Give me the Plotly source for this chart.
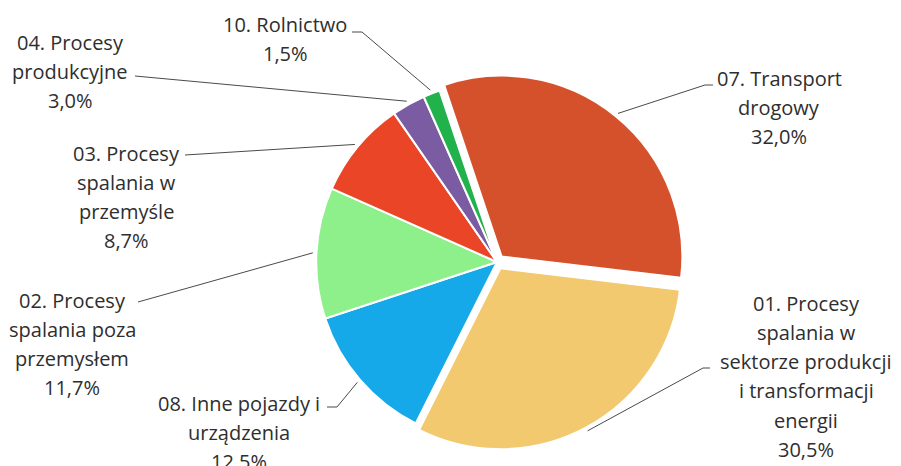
import math
import plotly.graph_objects as go

# ---- data (clockwise from top) ----
categories = [
    "07. Transport drogowy",
    "01. Procesy spalania w sektorze produkcji i transformacji energii",
    "08. Inne pojazdy i urządzenia",
    "02. Procesy spalania poza przemysłem",
    "03. Procesy spalania w przemyśle",
    "04. Procesy produkcyjne",
    "10. Rolnictwo",
]
values = [32.0, 30.5, 12.5, 11.7, 8.7, 3.0, 1.5]
pct_labels = ["32,0%", "30,5%", "12,5%", "11,7%", "8,7%", "3,0%", "1,5%"]
label_lines = [
    ["07. Transport", "drogowy"],
    ["01. Procesy", "spalania w", "sektorze produkcji", "i transformacji", "energii"],
    ["08. Inne pojazdy i", "urządzenia"],
    ["02. Procesy", "spalania poza", "przemysłem"],
    ["03. Procesy", "spalania w", "przemyśle"],
    ["04. Procesy", "produkcyjne"],
    ["10. Rolnictwo"],
]
colors = ["#D4512B", "#F2C96E", "#16A9E9", "#8DF08A", "#EA4526", "#7B5BA1", "#22B24C"]
pulls = [0.04, 0.04, 0, 0, 0, 0, 0]

# ---- layout (pixels) ----
W, H = 901, 466
CX, CY, RDOM = 497, 262, 188
ROT = -18.5
# label text centre x, first-line y, leader start (text side) points
label_pos = [
    (779, 78), (806, 303), (239, 403), (72, 300), (126, 153), (70, 42), (285, 24),
]
leader_text = [
    [(713, 85), (705, 85)],
    [(710, 368), (703, 368)],
    [(327, 407), (337, 407)],
    [(138, 302)],
    [(185, 155)],
    [(135, 76)],
    [(352, 32), (362, 32)],
]
LINE_SP = 29.3


def px(x):
    return x / W


def py(y):
    return 1 - y / H


fig = go.Figure(go.Pie(
    labels=categories, values=values, sort=False, direction="clockwise",
    rotation=ROT, pull=pulls, textinfo="none", hoverinfo="label+percent",
    marker=dict(colors=colors, line=dict(color="white", width=2)),
    domain=dict(x=[px(CX - RDOM), px(CX + RDOM)], y=[py(CY + RDOM), py(CY - RDOM)]),
    showlegend=False,
))

maxpull = max(pulls)
r = RDOM / (1 + maxpull)
total = sum(values)
ann = []
shapes = []
cum = 0.0
for i, v in enumerate(values):
    mid = ROT + (cum + v / 2) / total * 360
    cum += v
    a = math.radians(mid)
    ox = CX + pulls[i] * r * math.sin(a)
    oy = CY - pulls[i] * r * math.cos(a)
    ex = ox + r * 1.02 * math.sin(a)
    ey = oy - r * 1.02 * math.cos(a)
    pts = leader_text[i] + [(ex, ey)]
    for (x0, y0), (x1, y1) in zip(pts[:-1], pts[1:]):
        shapes.append(dict(type="line", xref="paper", yref="paper",
                           x0=px(x0), y0=py(y0), x1=px(x1), y1=py(y1),
                           line=dict(color="#4a4a4a", width=1)))
    lines = label_lines[i] + [pct_labels[i]]
    tx, ty = label_pos[i]
    for j, t in enumerate(lines):
        ann.append(dict(text=t, x=px(tx), y=py(ty + j * LINE_SP), xref="paper", yref="paper",
                        xanchor="center", yanchor="middle", showarrow=False,
                        font=dict(family="Open Sans", size=20, color="#2e2e2e")))

fig.update_layout(
    width=W, height=H, margin=dict(l=0, r=0, t=0, b=0),
    paper_bgcolor="white", plot_bgcolor="white",
    annotations=ann, shapes=shapes,
)
fig.write_html("out.html", config={"displayModeBar": False},
               post_script="document.body.style.margin='0';")
